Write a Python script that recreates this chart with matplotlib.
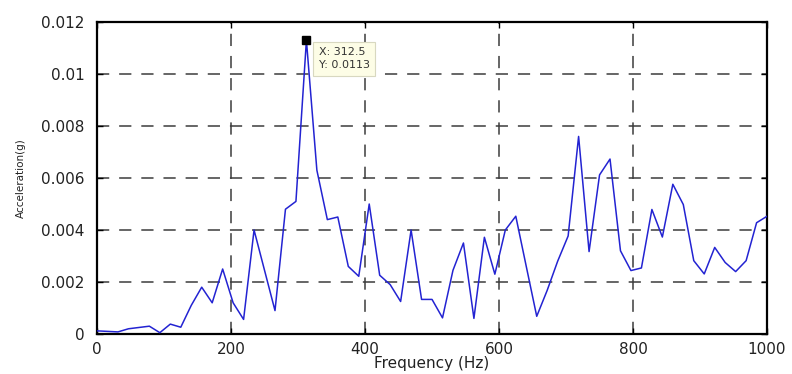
import numpy as np
import matplotlib
matplotlib.use("Agg")
import matplotlib.pyplot as plt
from matplotlib.ticker import FuncFormatter, MultipleLocator

# Spectrum bins (15.625 Hz resolution, 0 .. 1000 Hz)
freq_step = 15.625
accel = [
    0.00012, 0.00010, 0.00008, 0.00020, 0.00025, 0.00030, 0.00005, 0.00038,
    0.00026, 0.00110, 0.00180, 0.00120, 0.00250, 0.00120, 0.00056, 0.00400,
    0.00245, 0.00090, 0.00480, 0.00510, 0.01130, 0.00630, 0.00440, 0.00450,
    0.00260, 0.00222, 0.00500, 0.00226, 0.00190, 0.00125, 0.00400, 0.00133,
    0.00133, 0.00062, 0.00245, 0.00350, 0.00060, 0.00372, 0.00230, 0.00400,
    0.00453, 0.00260, 0.00068, 0.00168, 0.00280, 0.00377, 0.00760, 0.00317,
    0.00612, 0.00673, 0.00320, 0.00244, 0.00254, 0.00479, 0.00373, 0.00576,
    0.00498, 0.00282, 0.00231, 0.00333, 0.00275, 0.00240, 0.00282, 0.00428,
    0.00453,
]
freq = np.arange(len(accel)) * freq_step

# data cursor on the main peak
tip_x = 312.5
tip_y = 0.0113

x_ticks = [0, 200, 400, 600, 800, 1000]
y_max = 0.012

plt.rcParams["font.family"] = ["DejaVu Sans"]

fig = plt.figure(figsize=(7.92, 3.74), dpi=100)
ax = fig.add_axes([0.1225, 0.107, 0.846, 0.834])

ax.plot(freq, accel, color="#2323d2", linewidth=1.1, zorder=3)

# datatip marker + label box
ax.plot([tip_x], [tip_y], marker="s", markersize=5.5, color="black",
        markeredgecolor="black", zorder=5, clip_on=False)
ax.annotate(f"X: {tip_x:g}\nY: {tip_y:g}", xy=(tip_x, tip_y),
            xytext=(9, -5), textcoords="offset points", ha="left", va="top",
            fontsize=8, color="#333333", linespacing=1.35, zorder=6,
            bbox=dict(boxstyle="square,pad=0.5", facecolor="#fdfde6",
                      edgecolor="#d8d8c0", linewidth=0.8))

ax.set_xlim(0, 1000)
ax.set_ylim(0, y_max)
ax.set_xticks(x_ticks)
ax.yaxis.set_major_locator(MultipleLocator(0.002))
ax.yaxis.set_major_formatter(FuncFormatter(lambda v, _: f"{v:g}"))

# matlab-like dashed grid
ax.grid(True, color="#3c3c3c", linewidth=1.1, linestyle=(0, (8, 6.5)))
ax.set_axisbelow(True)

for side in ax.spines.values():
    side.set_linewidth(1.6)
    side.set_color("black")
ax.tick_params(direction="in", length=4, width=1.0, top=True, right=True,
               labelsize=11, pad=6, colors="black", labelcolor="#222222")
ax.tick_params(axis="y", pad=9)

ax.set_xlabel("Frequency (Hz)", fontsize=11, labelpad=-1, color="#222222")
ax.set_ylabel("Acceleration(g)", fontsize=7.5, labelpad=11, color="#222222")

fig.savefig("out.png", dpi=100)
